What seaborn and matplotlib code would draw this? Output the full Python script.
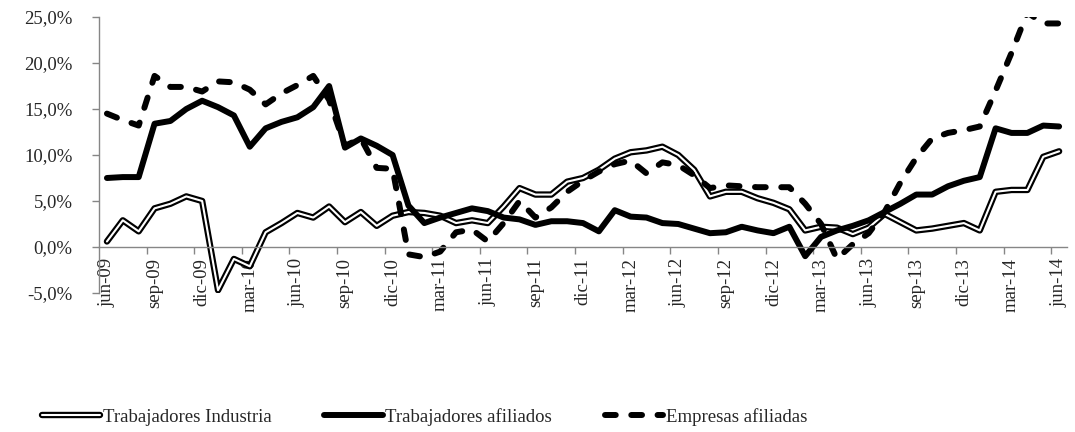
import numpy as np
import pandas as pd
import matplotlib
matplotlib.use('Agg')
import matplotlib.pyplot as plt
import matplotlib.patheffects as pe
from matplotlib.ticker import FuncFormatter
import seaborn as sns

# meses jun-09 ... jun-14
meses = ['ene', 'feb', 'mar', 'abr', 'may', 'jun', 'jul', 'ago', 'sep', 'oct', 'nov', 'dic']
fechas = pd.date_range('2009-06-01', '2014-06-01', freq='MS')
periodos = [f"{meses[d.month - 1]}-{d.strftime('%y')}" for d in fechas]

# variacion anual (%)
industria = [0.6, 2.9, 1.7, 4.2, 4.7, 5.5, 5.0, -4.7, -1.3, -2.1, 1.6, 2.6,
             3.7, 3.2, 4.4, 2.7, 3.8, 2.3, 3.4, 3.8, 3.7, 3.4, 2.6, 2.9,
             2.6, 4.4, 6.4, 5.7, 5.7, 7.1, 7.5, 8.4, 9.6, 10.3, 10.5, 10.9,
             10.0, 8.4, 5.5, 6.0, 6.0, 5.3, 4.8, 4.1, 1.8, 2.2, 2.1, 1.4,
             2.1, 3.6, 2.7, 1.8, 2.0, 2.3, 2.6, 1.8, 6.0, 6.2, 6.2, 9.8, 10.4]
afiliados = [7.5, 7.6, 7.6, 13.4, 13.7, 15.0, 15.9, 15.2, 14.3, 10.9, 12.9, 13.6,
             14.1, 15.2, 17.5, 10.8, 11.8, 11.0, 10.0, 4.5, 2.6, 3.2, 3.7, 4.2,
             3.9, 3.2, 3.0, 2.4, 2.8, 2.8, 2.6, 1.7, 4.0, 3.3, 3.2, 2.6,
             2.5, 2.0, 1.5, 1.6, 2.2, 1.8, 1.5, 2.2, -1.0, 1.1, 1.8, 2.3,
             2.9, 3.8, 4.7, 5.7, 5.7, 6.6, 7.2, 7.6, 12.9, 12.4, 12.4, 13.2, 13.1]
empresas = [14.5, 13.8, 13.2, 18.6, 17.4, 17.4, 16.9, 18.0, 17.9, 17.1, 15.5, 16.7,
            17.6, 18.6, 16.0, 11.0, 11.8, 8.6, 8.5, -0.8, -1.1, -0.5, 1.6, 1.9,
            0.6, 2.6, 5.0, 3.2, 4.3, 6.0, 7.2, 8.2, 9.0, 9.4, 8.0, 9.2,
            8.9, 7.8, 6.4, 6.7, 6.6, 6.5, 6.5, 6.5, 4.7, 2.5, -1.3, 0.3,
            1.5, 3.8, 7.0, 9.7, 11.8, 12.4, 12.7, 13.1, 17.0, 21.1, 25.5, 24.3, 24.3]

df = pd.DataFrame({'pos': np.arange(len(periodos)), 'periodo': periodos,
                   'industria': industria, 'afiliados': afiliados, 'empresas': empresas})

sns.set_theme(style='white')
plt.rcParams['font.family'] = ['Liberation Serif', 'DejaVu Serif']
plt.rcParams['font.size'] = 13.5

gris = '#868686'

fig = plt.figure(figsize=(10.75, 4.32), dpi=100)
ax = fig.add_axes([0.0921, 0.3218, 0.9005, 0.6388])

# linea doble: blanca con borde negro
sns.lineplot(data=df, x='pos', y='industria', ax=ax, color='white', lw=1.5,
             label='Trabajadores Industria',
             path_effects=[pe.Stroke(linewidth=4.6, foreground='black'), pe.Normal()])
sns.lineplot(data=df, x='pos', y='afiliados', ax=ax, color='black', lw=4.3,
             label='Trabajadores afiliados')
sns.lineplot(data=df, x='pos', y='empresas', ax=ax, color='black', lw=4.3,
             linestyle=(0, (1.8, 2.6)), dash_capstyle='round',
             label='Empresas afiliadas')

ax.set_xlim(-0.5, 60.5)
ax.set_ylim(-5, 25)
ax.set_xlabel('')
ax.set_ylabel('')

ax.set_xticks(df['pos'][::3].tolist())
ax.set_xticklabels(df['periodo'][::3].tolist())
ax.set_xticks(np.arange(2.5, 60, 3), minor=True)
ax.tick_params(axis='x', which='major', length=0, pad=8, labelsize=13.5, labelrotation=90)
ax.tick_params(axis='x', which='minor', bottom=True, length=5, width=1, color=gris, direction='out')

ax.set_yticks(range(-5, 26, 5))
ax.yaxis.set_major_formatter(FuncFormatter(lambda v, p: f"{v:.1f}%".replace('.', ',')))
ax.tick_params(axis='y', left=True, length=5, width=1, color=gris, pad=14, direction='out', labelsize=13.5)

ax.spines['bottom'].set_position(('data', 0))
for s in ['top', 'right']:
    ax.spines[s].set_visible(False)
for s in ['left', 'bottom']:
    ax.spines[s].set_color(gris)
    ax.spines[s].set_linewidth(1)

handles, labels = ax.get_legend_handles_labels()
ax.get_legend().remove()
fig.legend(handles, labels, loc='center', bbox_to_anchor=(0.395, 0.035), ncol=3,
           frameon=False, handlelength=3.1, handletextpad=0.15, columnspacing=2.8,
           fontsize=13.5)

fig.savefig('out.png', dpi=100)
